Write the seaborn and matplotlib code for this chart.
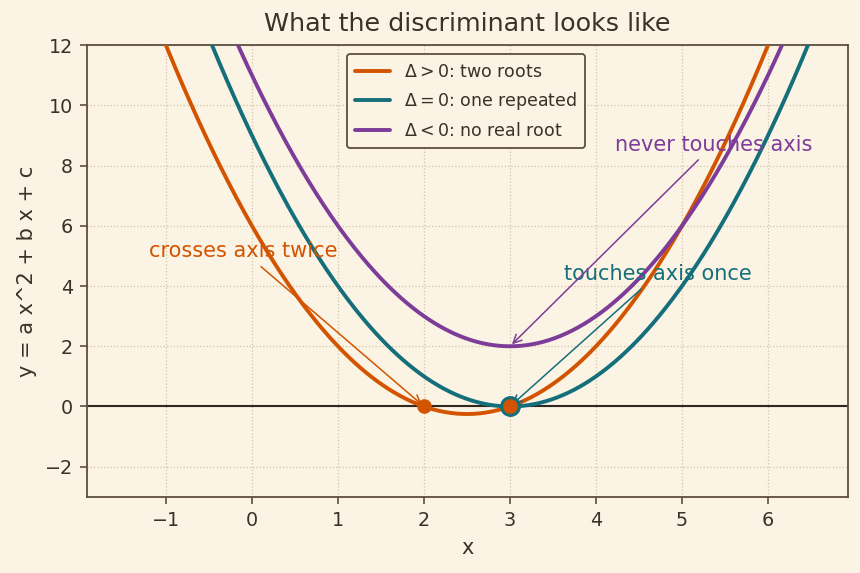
import numpy as np
import matplotlib
matplotlib.use("Agg")
import matplotlib.pyplot as plt
import seaborn as sns
import pandas as pd

# Data
x_vals = np.linspace(-1.9, 6.9, 400)
coef_two = (1, -5, 6)      # roots 2, 3
coef_one = (1, -6, 9)      # repeated root 3
coef_none = (1, -6, 11)    # vertex at (3, 2)
labels = [r"$\Delta > 0$: two roots", r"$\Delta = 0$: one repeated", r"$\Delta < 0$: no real root"]
colors = ["#D35400", "#156F7A", "#7D3C98"]
roots_two = [2, 3]
root_one = [3]
vertex_none = (3, 2)

bg = "#FBF3E4"
txt = "#3B3128"
spine = "#5C4F40"

sns.set_theme(style="whitegrid")
plt.rcParams.update({
    "figure.facecolor": bg, "axes.facecolor": bg,
    "axes.edgecolor": spine, "text.color": txt, "axes.labelcolor": txt,
    "xtick.color": txt, "ytick.color": txt,
})
plt.rcParams['font.family'] = ['DejaVu Sans']

rows = []
for coef, lab in zip([coef_two, coef_one, coef_none], labels):
    a, b, c = coef
    y = a * x_vals**2 + b * x_vals + c
    rows.append(pd.DataFrame({"x": x_vals, "y": y, "case": lab}))
df = pd.concat(rows)

fig, ax = plt.subplots(figsize=(8.6, 5.73), dpi=100)
ax.axhline(0, color="#2E2820", lw=1.5, zorder=1)
sns.lineplot(data=df, x="x", y="y", hue="case", palette=colors, lw=2.8, ax=ax, sort=False, zorder=3)

ax.plot(root_one, [0], "o", ms=14, color=colors[1], zorder=4)
ax.plot(roots_two, [0, 0], "o", ms=9.5, color=colors[0], zorder=5)

ax.annotate("crosses axis twice", xy=(2, 0), xytext=(-0.1, 5.15), ha="center", va="center",
            color=colors[0], fontsize=15,
            arrowprops=dict(arrowstyle="->", color=colors[0], lw=1.1))
ax.annotate("touches axis once", xy=(3, 0), xytext=(4.72, 4.4), ha="center", va="center",
            color=colors[1], fontsize=15,
            arrowprops=dict(arrowstyle="->", color=colors[1], lw=1.1))
ax.annotate("never touches axis", xy=vertex_none, xytext=(5.37, 8.7), ha="center", va="center",
            color=colors[2], fontsize=15,
            arrowprops=dict(arrowstyle="->", color=colors[2], lw=1.1))

ax.set_xlim(-1.92, 6.93)
ax.set_ylim(-3, 12)
ax.set_xticks(range(-1, 7))
ax.set_yticks(range(-2, 13, 2))
ax.tick_params(labelsize=13.8, length=5, width=1.2, color=spine, left=True, bottom=True, pad=5)
ax.grid(True, ls=":", color="#D3C6A6", lw=0.9)
for s in ax.spines.values():
    s.set_color(spine)
    s.set_linewidth(1.3)
ax.set_title("What the discriminant looks like", fontsize=18.3, color=txt, pad=10)
ax.set_xlabel("x", fontsize=15, labelpad=6)
ax.set_ylabel("y = a x^2 + b x + c", fontsize=15, labelpad=6)
leg = ax.legend(loc="upper center", bbox_to_anchor=(0.498, 1.0), fontsize=12.5, frameon=True,
                facecolor=bg, edgecolor=spine, framealpha=1, borderpad=0.5, labelspacing=0.55,
                handlelength=2.0)
leg.get_frame().set_linewidth(1.3)
for t in leg.get_texts():
    t.set_color(txt)
fig.subplots_adjust(left=0.101, right=0.986, top=0.921, bottom=0.133)
fig.savefig("out.png", dpi=100, facecolor=bg)
